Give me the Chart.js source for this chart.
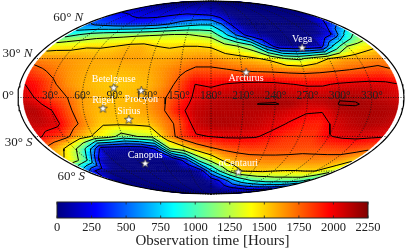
<!DOCTYPE html>
<html>
<head>
<meta charset="utf-8">
<script src="https://cdn.jsdelivr.net/npm/chart.js@4"></script>
<style>
html, body { margin: 0; padding: 0; background: #fff; width: 407px; height: 250px; overflow: hidden; }
#map { position: absolute; left: 0; top: 0; }
#bar { position: absolute; left: 0; top: 196px; }
</style>
</head>
<body>
<canvas id="map" width="407" height="196"></canvas>
<canvas id="bar" width="407" height="54"></canvas>
<script>
// observation hours, rows by declination, columns by right ascension
var lons = [5, 15, 30, 45, 60, 75, 90, 105, 120, 135, 150, 165, 180, 195, 210, 225, 240, 255, 270, 285, 300, 315, 330, 345, 355];
var lats = [88, 80, 70, 60, 50, 40, 30, 20, 10, 0, -5, -10, -20, -30, -40, -50, -60, -70, -80, -88];
var hours = [
    [0,0,0,0,0,0,0,0,0,0,0,0,0,0,0,0,0,0,0,0,0,0,0,0,0],
    [60,60,60,60,60,60,60,60,60,60,60,60,40,20,0,0,0,0,0,0,0,0,0,0,0],
    [300,280,250,220,200,200,200,220,240,260,250,230,200,120,40,0,0,0,0,0,0,0,0,0,20],
    [520,450,400,350,330,330,350,400,500,580,650,700,700,500,200,40,0,0,0,0,0,0,20,250,400],
    [900,980,1080,1130,1160,1180,1200,1220,1240,1260,1260,1220,1170,850,500,150,40,0,0,0,0,30,300,800,1020],
    [1400,1420,1430,1480,1480,1500,1560,1570,1500,1480,1500,1500,1480,1350,1250,1100,500,50,0,0,100,800,1250,1400,1450],
    [1650,1650,1640,1620,1600,1600,1620,1620,1600,1600,1620,1650,1650,1600,1570,1520,1450,1250,1200,1350,1500,1600,1620,1650,1680],
    [1850,1780,1700,1630,1590,1570,1560,1570,1590,1650,1720,1800,1800,1780,1750,1740,1730,1710,1700,1720,1750,1770,1800,1830,1770],
    [2000,1950,1790,1650,1580,1540,1520,1540,1560,1650,1800,2000,1970,2010,2040,2050,2040,2005,1980,1980,2020,2045,2060,2040,2010],
    [2065,2000,1830,1760,1620,1570,1550,1560,1600,1720,1870,2030,2100,2125,2145,2150,2155,2130,2115,2125,2160,2155,2130,2100,2065],
    [2100,2065,1920,1780,1620,1565,1550,1565,1610,1725,1900,2060,2115,2130,2150,2167,2168,2155,2080,2100,2170,2170,2150,2125,2100],
    [2130,2130,2005,1800,1620,1560,1550,1570,1620,1730,1950,2085,2130,2130,2130,2125,2110,2065,2025,2015,2130,2150,2155,2145,2130],
    [2100,2115,2050,1820,1650,1520,1530,1530,1550,1680,1800,2080,2145,2145,2130,2100,2050,1990,1920,1900,2050,2110,2150,2130,2100],
    [2030,1920,1830,1620,1480,1350,1150,1250,1300,1620,1850,1980,2005,2025,2025,2015,1960,1880,1860,1870,1990,2030,2040,2025,2015],
    [1650,1550,1300,900,100,50,50,50,300,1250,1400,1600,1720,1790,1820,1840,1830,1820,1810,1800,1810,1820,1840,1810,1780],
    [1450,1300,950,100,0,0,0,0,0,0,400,1050,1300,1520,1620,1660,1680,1690,1690,1680,1680,1680,1660,1600,1520],
    [500,200,0,0,0,0,0,0,0,0,0,100,700,1050,1350,1500,1520,1530,1500,1490,1490,1500,1500,1380,1300],
    [0,0,0,0,0,0,0,0,0,0,0,0,60,250,500,750,900,1000,1050,1100,1100,1100,1100,1050,950],
    [0,0,0,0,0,0,0,0,0,0,0,0,0,20,60,100,150,200,250,280,300,300,300,280,250],
    [0,0,0,0,0,0,0,0,0,0,0,0,0,0,0,0,0,0,0,0,0,0,0,0,0]
];
var levels = [250, 500, 750, 1000, 1250, 1500, 1750, 2000, 2165];
var barTicks = [0, 250, 500, 750, 1000, 1250, 1500, 1750, 2000, 2250];

var lonLines = [30, 60, 90, 120, 150, 180, 210, 240, 270, 300, 330];
var latLines = [60, 30, 0, -30, -60];
var latNames = ["60°", "30°", "0°", "30°", "60°"];
var latHemi = ["N", "N", "", "S", "S"];

var starNames = ["Betelgeuse", "Procyon", "Rigel", "Sirius", "Canopus", "Arcturus", "αCentauri", "Vega"];
var starLon = [88.8, 114.8, 78.6, 101.3, 96, 213.9, 219.9, 279.2];
var starLat = [7.4, 5.2, -8.2, -16.7, -52.7, 19.2, -60.8, 38.8];

var FONT = '"Liberation Serif", serif';

// mollweide, lon 0 at the left edge and 360 at the right
function project(lon, lat) {
    var phi = lat * Math.PI / 180;
    var t = phi;
    if (Math.abs(lat) >= 90) {
        t = phi;
    } else {
        for (var i = 0; i < 30; i++) {
            t = t - (2 * t + Math.sin(2 * t) - Math.PI * Math.sin(phi)) / (2 + 2 * Math.cos(2 * t));
        }
    }
    return {
        x: 2 * Math.SQRT2 / Math.PI * ((lon - 180) * Math.PI / 180) * Math.cos(t),
        y: Math.SQRT2 * Math.sin(t)
    };
}

function jet(v) {
    var t = Math.min(1, Math.max(0, v / 2250));
    function c(o) { return Math.round(255 * Math.min(1, Math.max(0, 1.5 - Math.abs(4 * t - o)))); }
    return "rgb(" + c(3) + "," + c(2) + "," + c(1) + ")";
}

function bilinear(i, j, u, v) {
    var a = hours[j][i], b = hours[j][i + 1], d = hours[j + 1][i], e = hours[j + 1][i + 1];
    return (a * (1 - u) + b * u) * (1 - v) + (d * (1 - u) + e * u) * v;
}

// marching squares over the hours table
function contour(level) {
    var pts = [];
    function cross(i1, j1, i2, j2) {
        var a = hours[j1][i1], b = hours[j2][i2];
        if ((a < level) === (b < level)) return null;
        var f = (level - a) / (b - a);
        return [lons[i1] + (lons[i2] - lons[i1]) * f, lats[j1] + (lats[j2] - lats[j1]) * f];
    }
    for (var j = 0; j < lats.length - 1; j++) {
        for (var i = 0; i < lons.length - 1; i++) {
            var found = [cross(i, j, i + 1, j), cross(i + 1, j, i + 1, j + 1), cross(i + 1, j + 1, i, j + 1), cross(i, j + 1, i, j)].filter(Boolean);
            for (var k = 0; k + 1 < found.length; k += 2) {
                pts.push(project(found[k][0], found[k][1]));
                pts.push(project(found[k + 1][0], found[k + 1][1]));
                pts.push({ x: NaN, y: NaN });
            }
        }
    }
    return pts;
}

function meridian(lon) {
    var pts = [];
    for (var lat = -90; lat <= 90; lat += 2) pts.push(project(lon, lat));
    return pts;
}

function parallel(lat) {
    return [project(0, lat), project(360, lat)];
}

function starImage() {
    var c = document.createElement("canvas");
    c.width = 11;
    c.height = 11;
    var g = c.getContext("2d");
    g.beginPath();
    for (var i = 0; i < 10; i++) {
        var r = i % 2 ? 1.9 : 4.6;
        var a = -Math.PI / 2 + i * Math.PI / 5;
        g.lineTo(5.5 + r * Math.cos(a), 5.7 + r * Math.sin(a));
    }
    g.closePath();
    g.fillStyle = "#fff";
    g.strokeStyle = "#222";
    g.lineWidth = 0.7;
    g.fill();
    g.stroke();
    return c;
}

var datasets = [];

// stars first so they sit on top
datasets.push({
    label: "stars",
    data: starLon.map(function (l, i) { return project(l, starLat[i]); }),
    pointStyle: starImage(),
    pointRadius: 5,
    showLine: false,
    order: 0
});

levels.forEach(function (lev) {
    datasets.push({
        label: "contour " + lev,
        data: contour(lev),
        showLine: true,
        spanGaps: false,
        pointRadius: 0,
        borderColor: "#000",
        borderWidth: 1,
        order: 2
    });
});

lonLines.forEach(function (l) {
    datasets.push({ label: "ra " + l, data: meridian(l), showLine: true, pointRadius: 0, borderColor: "#111", borderWidth: 0.8, borderDash: [1, 1.5], order: 3 });
});
latLines.forEach(function (l) {
    datasets.push({ label: "dec " + l, data: parallel(l), showLine: true, pointRadius: 0, borderColor: "#111", borderWidth: 0.8, borderDash: [1, 1.5], order: 3 });
});

datasets.push({
    label: "edge",
    data: meridian(0).concat(meridian(360).reverse(), [project(0, -90)]),
    showLine: true,
    pointRadius: 0,
    borderColor: "#000",
    borderWidth: 1.2,
    order: 1
});

var heatPlugin = {
    id: "heat",
    beforeDatasetsDraw: function (chart) {
        var g = chart.ctx, sx = chart.scales.x, sy = chart.scales.y;
        function px(lon, lat) {
            var p = project(lon, lat);
            return [sx.getPixelForValue(p.x), sy.getPixelForValue(p.y)];
        }
        g.save();
        g.lineWidth = 0.6;
        var nu = 6, nv = 4;
        for (var j = 0; j < lats.length - 1; j++) {
            for (var i = 0; i < lons.length - 1; i++) {
                for (var a = 0; a < nu; a++) {
                    for (var b = 0; b < nv; b++) {
                        var l0 = lons[i] + (lons[i + 1] - lons[i]) * a / nu, l1 = lons[i] + (lons[i + 1] - lons[i]) * (a + 1) / nu;
                        var d0 = lats[j] + (lats[j + 1] - lats[j]) * b / nv, d1 = lats[j] + (lats[j + 1] - lats[j]) * (b + 1) / nv;
                        var c = jet(bilinear(i, j, (a + 0.5) / nu, (b + 0.5) / nv));
                        var p1 = px(l0, d0), p2 = px(l1, d0), p3 = px(l1, d1), p4 = px(l0, d1);
                        g.beginPath();
                        g.moveTo(p1[0], p1[1]);
                        g.lineTo(p2[0], p2[1]);
                        g.lineTo(p3[0], p3[1]);
                        g.lineTo(p4[0], p4[1]);
                        g.closePath();
                        g.fillStyle = c;
                        g.strokeStyle = c;
                        g.fill();
                        g.stroke();
                    }
                }
            }
        }
        g.restore();
    }
};

var labelPlugin = {
    id: "labels",
    afterDatasetsDraw: function (chart) {
        var g = chart.ctx, sx = chart.scales.x, sy = chart.scales.y;
        function at(lon, lat) {
            var p = project(lon, lat);
            return [sx.getPixelForValue(p.x), sy.getPixelForValue(p.y)];
        }
        g.save();
        g.textBaseline = "middle";
        g.textAlign = "center";

        // ra labels along the equator
        g.font = "11.5px " + FONT;
        g.fillStyle = "#222";
        lonLines.forEach(function (l) {
            var p = at(l, 0);
            g.fillText(l + "°", p[0], p[1] - 2);
        });

        // dec labels outside the left edge
        var latDy = [-6, -5, -2, 6, 6];
        var latDx = [-3, -2, -4, -2, -1];
        latLines.forEach(function (l, i) {
            var p = at(0, l);
            var right = p[0] + latDx[i], y = p[1] + latDy[i];
            g.textAlign = "right";
            g.font = "italic 13px " + FONT;
            var w = latHemi[i] ? g.measureText(latHemi[i]).width + 3 : 0;
            g.fillText(latHemi[i], right, y);
            g.font = "13px " + FONT;
            g.fillText(latNames[i], right - w, y);
        });

        // star names
        g.textAlign = "center";
        g.font = "10px " + FONT;
        g.fillStyle = "#fff";
        var starDy = [-8, 9, -8, -8, -8, 6, -9, -8];
        starNames.forEach(function (s, i) {
            var p = at(starLon[i], starLat[i]);
            g.fillText(s, p[0], p[1] + starDy[i]);
        });
        g.restore();
    }
};

var myChart = new Chart(document.getElementById("map"), {
    type: "scatter",
    data: { datasets: datasets },
    plugins: [heatPlugin, labelPlugin],
    options: {
        responsive: false,
        animation: false,
        layout: { autoPadding: false, padding: { left: 18, right: 3, top: 1, bottom: 2 } },
        plugins: { legend: { display: false }, tooltip: { enabled: false } },
        elements: { line: { tension: 0 } },
        datasets: { scatter: { clip: false } },
        scales: {
            x: { display: false, min: -2 * Math.SQRT2, max: 2 * Math.SQRT2 },
            y: { display: false, min: -Math.SQRT2, max: Math.SQRT2 }
        }
    }
});

// colour bar underneath, one floating bar with the jet ramp
function barFill(context) {
    var area = context.chart.chartArea;
    if (!area) return "#000";
    var grad = context.chart.ctx.createLinearGradient(area.left, 0, area.right, 0);
    for (var i = 0; i <= 32; i++) grad.addColorStop(i / 32, jet(2250 * i / 32));
    return grad;
}

var barEdge = {
    id: "barEdge",
    afterDraw: function (chart) {
        var g = chart.ctx, a = chart.chartArea, sx = chart.scales.x;
        g.save();
        g.strokeStyle = "#222";
        g.lineWidth = 0.8;
        barTicks.forEach(function (t) {
            var x = sx.getPixelForValue(t);
            g.beginPath();
            g.moveTo(x, a.top);
            g.lineTo(x, a.top + 2.5);
            g.moveTo(x, a.bottom);
            g.lineTo(x, a.bottom - 2.5);
            g.stroke();
        });
        g.lineWidth = 1;
        g.strokeRect(a.left, a.top, a.right - a.left, a.bottom - a.top);
        g.restore();
    }
};

var barChart = new Chart(document.getElementById("bar"), {
    type: "bar",
    data: {
        labels: ["hours"],
        datasets: [{ data: [[barTicks[0], barTicks[barTicks.length - 1]]], backgroundColor: barFill, barPercentage: 1, categoryPercentage: 1 }]
    },
    plugins: [barEdge],
    options: {
        indexAxis: "y",
        responsive: false,
        animation: false,
        layout: { autoPadding: false, padding: { left: 57, right: 39, top: 6, bottom: 0 } },
        plugins: { legend: { display: false }, tooltip: { enabled: false } },
        scales: {
            y: { display: false },
            x: {
                min: 0,
                max: 2250,
                afterBuildTicks: function (axis) { axis.ticks = barTicks.map(function (v) { return { value: v }; }); },
                afterFit: function (axis) { axis.height = 32; },
                grid: { display: false, drawTicks: false },
                border: { display: false },
                ticks: {
                    color: "#222",
                    font: { family: FONT, size: 12.5 },
                    padding: 2,
                    maxRotation: 0,
                    autoSkip: false,
                    callback: function (v) { return String(v); }
                },
                title: { display: true, text: "Observation time [Hours]", color: "#222", font: { family: FONT, size: 15 }, padding: { top: 0, bottom: 0 } }
            }
        }
    }
});
</script>
</body>
</html>
